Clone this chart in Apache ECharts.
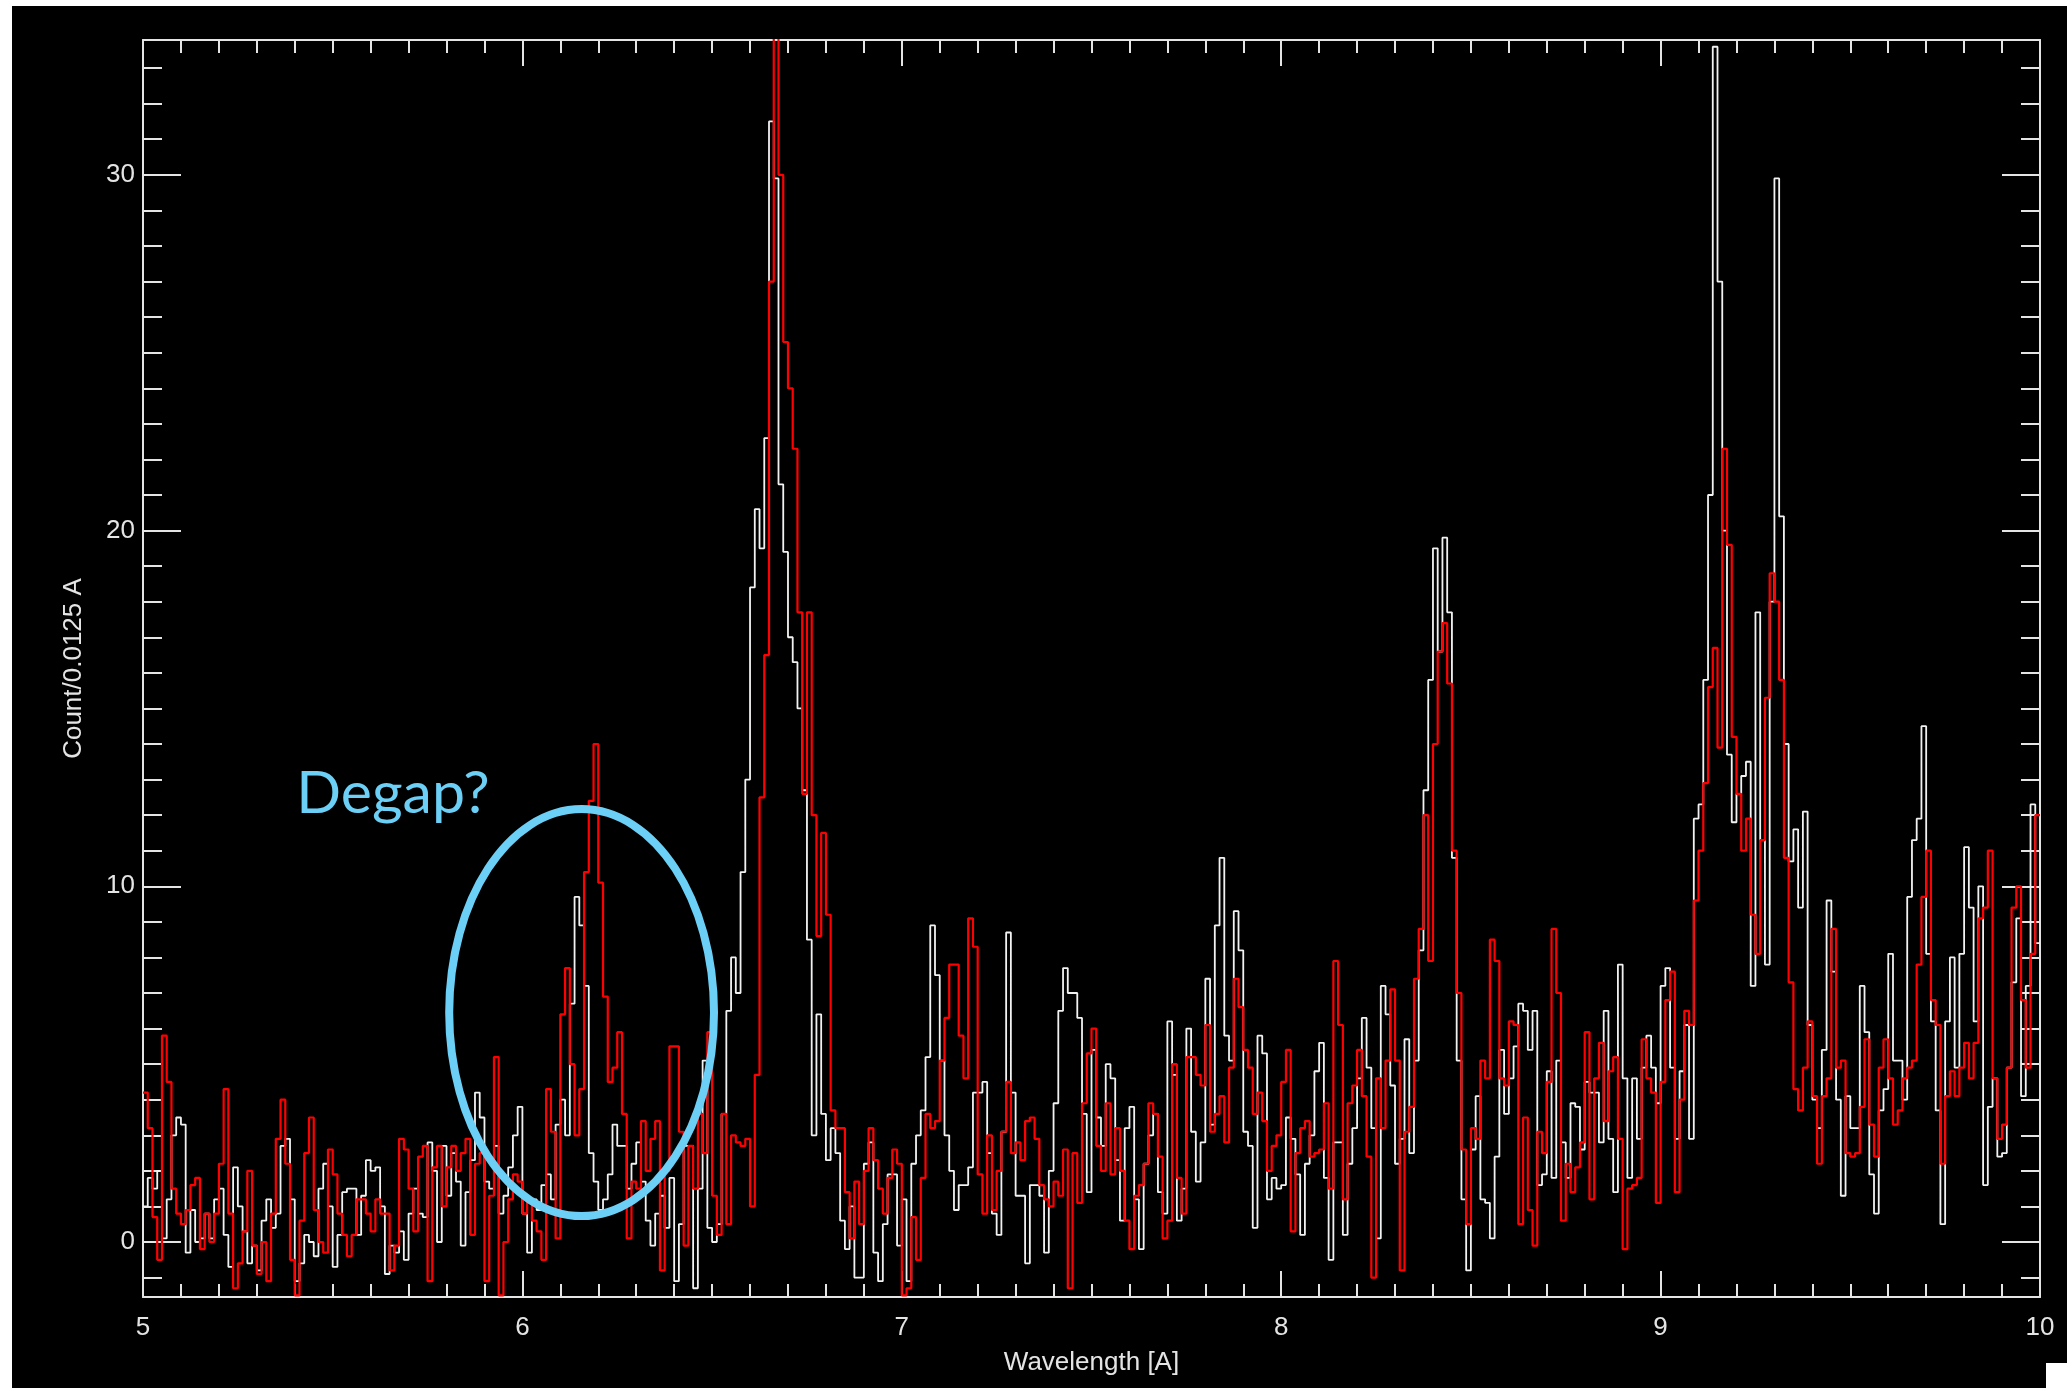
<!DOCTYPE html>
<html>
<head>
<meta charset="utf-8">
<script src="https://cdn.jsdelivr.net/npm/echarts@6/dist/echarts.min.js"></script>
<style>
  html, body { margin: 0; padding: 0; background: #fff; width: 2067px; height: 1388px; overflow: hidden; }
  #plate  { position: absolute; left: 12px; top: 6px; right: 0; bottom: 0; background: #000; }
  #corner { position: absolute; right: 0; bottom: 0; width: 21px; height: 25px; background: #fff; }
  #chart  { position: absolute; left: 0; top: 0; width: 2067px; height: 1388px; }
</style>
</head>
<body>
<div id="plate"></div>
<div id="corner"></div>
<div id="chart"></div>
<script>
// Binned spectra: counts per 0.0125 A bin, 5.0 - 10.0 A (80 bins per Angstrom)
const lambdaStart = 5.0;
const lambdaEnd = 10.0;
const binWidth = 0.0125;
const xTickLabels = [5, 6, 7, 8, 9, 10];

// first spectrum (white)
const white5to6 = [
  1.0, 1.8, 1.5, 2.0, 0.1, 1.2, 3.0, 3.5, 3.3, -0.3,
  0.9, 0.0, 0.1, 0.8, 0.1, 1.2, 1.5, 0.2, -0.7, 2.1,
  1.0, 0.3, -0.6, -0.1, -0.8, 0.6, 1.2, 0.4, 0.8, 2.7,
  2.9, 1.2, -1.1, -0.6, 0.2, 0.0, -0.4, 1.5, 2.2, 1.0,
  -0.7, 0.2, 1.4, 1.5, 1.5, 0.2, 1.3, 2.3, 2.0, 2.1,
  1.0, -0.9, -0.1, -0.3, 0.3, -0.5, 0.8, 1.5, 0.8, 0.7,
  2.8, 2.0, 0.0, 2.7, 1.3, 2.5, 1.7, -0.1, 1.4, 2.3,
  4.2, 3.5, 1.7, 1.5, 2.7, 0.8, 1.3, 2.1, 3.0, 3.8
];
const white6to7 = [
  0.8, -0.3, 1.2, 0.9, 1.6, 1.9, 1.2, 3.3, 4.0, 3.0,
  6.7, 9.7, 8.9, 7.2, 2.5, 1.7, 0.9, 1.2, 1.9, 3.3,
  2.7, 2.7, 1.5, 2.2, 2.8, 1.7, 0.6, -0.1, 0.8, 1.3,
  0.4, 1.8, -1.1, 0.5, 2.7, 2.7, -1.3, 1.5, 5.1, 0.4,
  0.0, 0.5, 3.6, 6.5, 8.0, 7.0, 10.4, 13.0, 18.4, 20.6,
  19.5, 22.6, 31.5, 29.9, 21.3, 19.4, 17.0, 16.3, 15.0, 12.7,
  8.5, 3.0, 6.4, 3.6, 2.3, 3.2, 2.5, 0.6, -0.2, 1.0,
  -1.0, -1.0, 2.2, 2.8, -0.3, -1.1, 0.5, 1.9, 1.9, -0.1
];
const white7to8 = [
  1.2, -1.1, 2.2, 3.0, 3.7, 5.2, 8.9, 7.5, 5.1, 3.0,
  2.0, 0.9, 1.6, 1.6, 2.1, 4.2, 4.2, 4.5, 2.5, 0.8,
  0.2, 3.1, 8.7, 4.2, 1.3, 1.3, -0.6, 1.6, 1.6, 1.3,
  -0.3, 2.0, 3.9, 6.5, 7.7, 7.0, 7.0, 6.3, 3.6, 1.4,
  5.4, 3.5, 2.7, 5.0, 4.6, 2.3, 0.6, 3.2, 3.8, 1.2,
  -0.2, 2.2, 3.0, 3.6, 1.4, 0.8, 6.2, 4.7, 0.6, 1.5,
  6.0, 3.1, 1.7, 2.8, 7.4, 3.3, 8.9, 10.8, 5.8, 5.1,
  9.3, 8.2, 3.1, 2.7, 0.4, 5.8, 5.3, 1.2, 1.8, 1.5
];
const white8to9 = [
  1.6, 3.5, 2.9, 1.9, 0.2, 2.2, 3.0, 4.8, 5.6, 1.8,
  -0.5, 2.8, 2.8, 0.2, 2.2, 3.2, 4.6, 6.3, 4.9, 3.2,
  0.1, 7.2, 6.4, 4.4, 2.2, 2.9, 5.7, 2.5, 5.1, 8.2,
  12.7, 15.8, 19.5, 16.6, 19.8, 17.7, 10.8, 5.1, 1.2, -0.8,
  2.6, 4.1, 1.2, 1.1, 0.1, 2.4, 5.4, 3.6, 4.6, 5.5,
  6.7, 6.5, 5.4, 6.5, 1.6, 1.9, 4.8, 1.8, 5.1, 2.8,
  1.8, 3.9, 3.8, 2.6, 4.5, 4.2, 4.2, 2.8, 6.5, 2.9,
  1.4, 7.8, 4.6, 1.8, 4.6, 2.9, 4.9, 5.8, 4.9, 3.9
];
const white9to10 = [
  7.2, 7.7, 4.9, 2.9, 4.8, 6.1, 2.9, 11.9, 12.3, 15.8,
  21.0, 33.6, 27.0, 20.0, 13.7, 11.8, 12.6, 13.1, 13.5, 7.2,
  17.7, 11.3, 7.8, 18.0, 29.9, 20.4, 14.0, 10.7, 11.6, 9.4,
  12.1, 6.1, 4.0, 3.2, 5.4, 9.6, 7.6, 4.0, 1.3, 4.1,
  3.2, 3.2, 7.2, 5.9, 1.9, 0.8, 3.7, 4.3, 8.1, 5.1,
  5.1, 4.0, 9.7, 11.3, 11.9, 14.5, 8.1, 6.2, 3.7, 0.5,
  6.2, 8.0, 4.9, 8.1, 11.1, 9.4, 6.2, 10.0, 1.6, 3.8,
  4.6, 2.4, 2.5, 4.9, 7.3, 9.1, 4.1, 7.2, 12.3, 8.4
];

// second spectrum (red)
const red5to6 = [
  4.2, 3.2, 0.7, -0.5, 5.8, 4.5, 1.5, 0.8, 0.5, 0.9,
  1.6, 1.8, -0.2, 0.8, 0.0, 0.8, 2.2, 4.3, 0.8, -1.3,
  -0.6, 0.3, 2.0, -0.1, -0.9, 0.0, -1.1, 0.8, 2.9, 4.0,
  2.2, -0.5, -1.5, 0.6, 2.5, 3.5, 0.9, 0.0, -0.3, 2.6,
  1.9, 0.8, 0.2, -0.4, 0.2, 1.2, 1.2, 0.8, 0.3, 1.2,
  0.8, 0.8, -0.8, -0.1, 2.9, 2.6, 1.5, 0.3, 2.4, 2.7,
  -1.1, 2.1, 2.7, 1.0, 2.1, 2.7, 2.0, 2.5, 2.9, 0.2,
  2.2, 2.5, -1.1, 1.3, 5.2, -1.5, 0.0, 1.2, 1.9, 1.7
];
const red6to7 = [
  0.8, 1.2, 0.6, 0.3, -0.5, 4.3, 3.1, 0.1, 6.4, 7.7,
  5.0, 3.0, 4.3, 10.4, 12.4, 14.0, 10.1, 6.9, 4.5, 4.9,
  5.9, 3.6, 0.1, 1.7, 1.5, 3.4, 2.0, 2.9, 3.4, -0.8,
  2.0, 5.5, 5.5, 3.1, -0.1, 2.7, 1.5, 3.6, 2.5, 5.9,
  1.3, 0.2, 3.6, 0.5, 3.0, 2.8, 2.7, 2.9, 1.0, 4.7,
  12.5, 16.5, 27.0, 38.0, 30.0, 25.3, 24.0, 22.3, 17.7, 12.6,
  17.7, 12.0, 8.6, 11.5, 9.2, 3.7, 3.2, 3.2, 1.4, 0.1,
  1.7, 0.5, 2.0, 3.2, 2.3, 1.5, 0.8, 1.8, 2.6, 2.2
];
const red7to8 = [
  -1.5, -1.3, 0.7, -0.5, 1.8, 3.6, 3.2, 3.4, 5.1, 6.3,
  7.8, 7.8, 5.8, 4.6, 9.1, 8.3, 1.9, 0.8, 3.0, 0.9,
  2.0, 3.1, 4.5, 2.5, 2.8, 2.3, 3.4, 3.5, 2.9, 1.6,
  1.2, 1.0, 1.7, 1.3, 2.6, -1.3, 2.5, 1.1, 3.9, 5.3,
  6.0, 2.7, 2.0, 3.9, 1.9, 3.2, 2.0, 0.6, -0.2, 1.3,
  1.6, 2.2, 3.9, 3.6, 2.4, 0.1, 0.6, 5.0, 1.8, 0.8,
  5.2, 5.2, 4.7, 4.4, 6.1, 3.1, 3.6, 4.1, 2.8, 4.9,
  7.4, 6.6, 5.4, 4.9, 3.6, 4.2, 3.4, 2.0, 2.7, 3.0
];
const red8to9 = [
  4.5, 5.4, 0.3, 2.5, 3.2, 3.4, 2.4, 2.5, 2.6, 3.9,
  1.5, 7.9, 6.1, 1.2, 3.9, 4.4, 5.4, 4.1, 2.4, -1.0,
  4.6, 3.2, 5.1, 7.1, 5.1, -0.8, 3.1, 3.8, 7.4, 8.8,
  12.0, 7.9, 14.0, 16.6, 17.4, 15.7, 11.0, 7.0, 2.6, 0.5,
  3.2, 2.9, 5.1, 4.6, 8.5, 7.9, 4.6, 4.4, 6.2, 6.1,
  0.5, 3.5, 0.9, -0.1, 3.1, 2.5, 4.5, 8.8, 7.0, 0.6,
  2.2, 1.4, 2.1, 2.8, 5.9, 1.2, 4.6, 5.6, 3.4, 4.8,
  5.2, 2.9, -0.2, 1.5, 1.6, 1.8, 5.7, 4.6, 4.2, 1.1
];
const red9to10 = [
  4.5, 6.8, 7.6, 1.4, 4.0, 6.5, 6.1, 9.6, 11.0, 12.9,
  15.6, 16.7, 13.9, 22.3, 19.6, 14.2, 12.6, 11.0, 11.9, 9.2,
  8.1, 11.3, 15.3, 18.8, 18.0, 15.8, 10.8, 7.3, 4.3, 3.7,
  4.9, 6.2, 4.1, 2.2, 4.1, 4.6, 8.8, 4.9, 5.1, 2.5,
  2.4, 2.5, 3.8, 5.7, 3.3, 2.4, 4.9, 5.7, 4.6, 3.3,
  3.7, 4.6, 4.9, 5.1, 7.8, 9.7, 11.0, 6.8, 6.1, 2.2,
  4.1, 4.8, 4.1, 4.9, 5.6, 4.6, 5.6, 9.1, 9.4, 11.0,
  4.6, 2.9, 3.3, 4.9, 9.4, 10.0, 6.8, 4.9, 8.1, 12.0
];

const whiteCounts = [].concat(white5to6, white6to7, white7to8, white8to9, white9to10);
const redCounts = [].concat(red5to6, red6to7, red7to8, red8to9, red9to10);

// y range of the frame
const countMin = -1.546;
const countMax = 33.79;

// annotation: ellipse around the 6.15-6.2 A feature, with its note
const ringCenter = [6.156, 6.45];
const ringHalfWidth = 0.349;   // Angstrom
const ringHalfHeight = 5.72;   // counts
const noteAnchor = [5.404, 12.6];
const noteText = 'Degap?';

const ink = '#e4e4e4';
const labelFont = 'Liberation Sans';
const noteBlue = '#6ccff6';

// histogram points at bin centres; the step turns at the bin edges
function histogramPoints(counts) {
  const pts = [[lambdaStart, counts[0]]];
  counts.forEach((c, i) => pts.push([lambdaStart + (i + 0.5) * binWidth, c]));
  pts.push([lambdaEnd, counts[counts.length - 1]]);
  return pts;
}

function xAxisSpec(pos, withLabels) {
  return {
    type: 'value', position: pos, min: lambdaStart, max: lambdaEnd, interval: 1,
    axisLine: { show: true, onZero: false, lineStyle: { color: ink, width: 2 } },
    axisTick: { show: true, inside: true, length: 26, lineStyle: { color: ink, width: 2 } },
    minorTick: { show: true, splitNumber: 10, length: 13, lineStyle: { color: ink, width: 2 } },
    splitLine: { show: false },
    axisLabel: {
      show: withLabels, color: ink, fontFamily: labelFont, fontSize: 26, margin: 18,
      formatter: v => (xTickLabels.indexOf(Math.round(v)) >= 0 ? String(Math.round(v)) : '')
    },
    name: withLabels ? 'Wavelength [A]' : '',
    nameLocation: 'middle', nameGap: 53,
    nameTextStyle: { color: ink, fontFamily: labelFont, fontSize: 26 }
  };
}

function yAxisSpec(pos, withLabels) {
  return {
    type: 'value', position: pos, min: countMin, max: countMax, splitNumber: 4,
    axisLine: { show: true, onZero: false, lineStyle: { color: ink, width: 2 } },
    axisTick: { show: true, inside: true, length: 38, lineStyle: { color: ink, width: 2 } },
    minorTick: { show: true, splitNumber: 10, length: 19, lineStyle: { color: ink, width: 2 } },
    splitLine: { show: false },
    axisLabel: {
      show: withLabels, color: ink, fontFamily: labelFont, fontSize: 26, margin: 8,
      showMinLabel: false, showMaxLabel: false
    },
    name: withLabels ? 'Count/0.0125 A' : '',
    nameLocation: 'middle', nameGap: 56, nameRotate: 90,
    nameTextStyle: { color: ink, fontFamily: labelFont, fontSize: 26 }
  };
}

const chart = echarts.init(document.getElementById('chart'), null, { renderer: 'canvas' });
chart.setOption({
  backgroundColor: 'transparent',
  animation: false,
  grid: { left: 143, top: 40, right: 27, bottom: 91, containLabel: false },
  xAxis: [xAxisSpec('bottom', true), xAxisSpec('top', false)],
  yAxis: [yAxisSpec('left', true), yAxisSpec('right', false)],
  series: [
    {
      name: 'white', type: 'line', step: 'middle', data: histogramPoints(whiteCounts),
      xAxisIndex: 0, yAxisIndex: 0, symbol: 'none', clip: true, silent: true,
      lineStyle: { color: '#f2f2f2', width: 1.8 }
    },
    {
      name: 'red', type: 'line', step: 'middle', data: histogramPoints(redCounts),
      xAxisIndex: 0, yAxisIndex: 0, symbol: 'none', clip: true, silent: true,
      lineStyle: { color: '#ff0000', width: 2.2 }
    }
  ]
});

// place the annotation in data coordinates
const c = chart.convertToPixel({ xAxisIndex: 0, yAxisIndex: 0 }, ringCenter);
const e = chart.convertToPixel({ xAxisIndex: 0, yAxisIndex: 0 },
  [ringCenter[0] + ringHalfWidth, ringCenter[1] + ringHalfHeight]);
const t = chart.convertToPixel({ xAxisIndex: 0, yAxisIndex: 0 }, noteAnchor);
chart.setOption({
  graphic: [
    {
      type: 'ellipse', silent: true, z: 100,
      shape: { cx: c[0], cy: c[1], rx: e[0] - c[0], ry: c[1] - e[1] },
      style: { fill: 'none', stroke: noteBlue, lineWidth: 8 }
    },
    {
      type: 'text', silent: true, z: 100, x: t[0], y: t[1],
      style: { text: noteText, fill: noteBlue, font: '59px Lato', align: 'left', verticalAlign: 'middle' }
    }
  ]
});
</script>
</body>
</html>
